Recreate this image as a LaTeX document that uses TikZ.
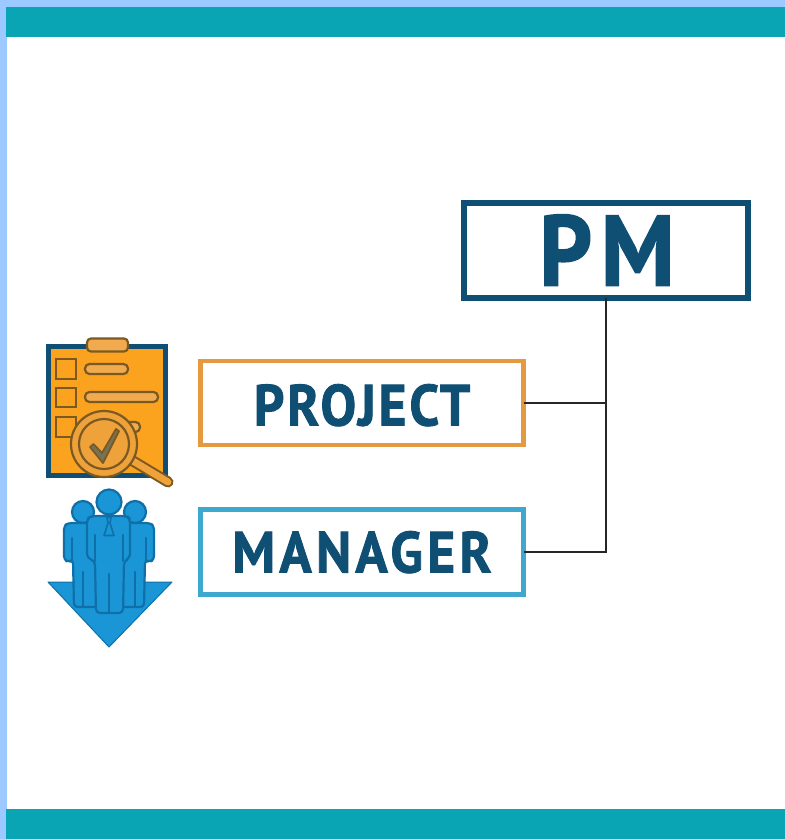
\documentclass[tikz,border=0pt]{standalone}
\usepackage{fontspec}
\setmainfont{PT Sans}[UprightFont=* Bold,UprightFeatures={FakeBold=1.5,FakeStretch=0.92}]
\definecolor{band}{HTML}{0AA5B5}
\definecolor{frameblue}{HTML}{9CC9FF}
\definecolor{navy}{HTML}{0F4F73}
\definecolor{boxorange}{HTML}{E59A40}
\definecolor{boxblue}{HTML}{3FA8CE}
\definecolor{clip}{HTML}{FBA21F}
\definecolor{clipdark}{HTML}{7A5A22}
\definecolor{lens}{HTML}{EFA23A}
\definecolor{peopleblue}{HTML}{1A96D6}
\definecolor{peopledark}{HTML}{0F6FA8}
\tikzset{
  x=1pt,y=-1pt,
  labelbox/.style={draw,fill=white,inner sep=0pt,outer sep=0pt,line width=4.5pt,text height=41pt,text depth=0pt,font=\fontsize{58}{58}\selectfont,text=navy},
  wire/.style={draw=black!85,line width=2pt},
  cliprow/.style={draw=clipdark,line width=2.2pt,fill=lens!90!white},
  person/.style={draw=peopledark,line width=2.2pt,fill=peopleblue,line join=round},
  slit/.style={draw=peopledark,line width=2.4pt,line cap=round},
}
\begin{document}
\begin{tikzpicture}
\useasboundingbox (0,0) rectangle (785,839);
% page frame and bands
\fill[frameblue] (0,0) rectangle (785,839);
\fill[white] (7,37) rectangle (785,809);
\fill[band] (6,7) rectangle (785,37);
\fill[band] (6,809) rectangle (785,839);

% labelled boxes
\node[labelbox,draw=navy,line width=6pt,minimum width=284pt,minimum height=95pt,text height=70pt,font=\fontsize{100}{100}\selectfont] (pm) at (605.5,250.5) {\addfontfeature{LetterSpace=9}PM\kern-3pt};
\node[labelbox,draw=boxorange,minimum width=323pt,minimum height=84pt] (prj) at (362,403) {\raisebox{-2pt}{\addfontfeature{LetterSpace=5}PROJECT}};
\node[labelbox,draw=boxblue,minimum width=323pt,minimum height=85pt] (mgr) at (362,552) {\addfontfeature{LetterSpace=7.5}MANAGER};

% connectors
\draw[wire] (pm.south) -- (pm.south |- mgr.east) -- (mgr.east);
\draw[wire] (prj.east) -- (prj.east -| pm.south);

% clipboard icon
\draw[draw=navy,line width=4.5pt,fill=clip] (48.5,346.5) rectangle (165.5,475.5);
\draw[cliprow,rounded corners=4pt] (87,338.5) rectangle (128,351.5);
\draw[draw=clipdark,line width=2.2pt] (56,359) rectangle (76,379);
\draw[draw=clipdark,line width=2.2pt] (56,388) rectangle (76,407);
\draw[draw=clipdark,line width=2.2pt] (56,417) rectangle (76,437);
\draw[cliprow,rounded corners=4.5pt] (85,364) rectangle (128,374);
\draw[cliprow,rounded corners=4.5pt] (85,392) rectangle (158,402);
\draw[cliprow,rounded corners=4.5pt] (85,422) rectangle (140,432);
% magnifier
\draw[draw=clipdark,line width=11pt,line cap=round] (133,461) -- (168,482);
\draw[draw=lens,line width=7pt,line cap=round] (133,461) -- (168,482);
\draw[draw=clipdark,line width=2.2pt,fill=lens] (104,444) circle (33);
\draw[draw=clipdark,line width=2.2pt,fill=lens] (104,444) circle (25);
\draw[draw=clipdark,line width=1.8pt,fill=lens!45!navy,line join=round]
  (90,447) -- (93.5,444) -- (102,453) -- (116,429) -- (119,431) -- (103,463) -- cycle;

% people icon
\fill[peopleblue,draw=peopledark,line width=1pt,line join=round] (48,582) -- (172,582) -- (109,647) -- cycle;
\draw[person] (83,512) circle (11);
\draw[person] (135,512) circle (11);
\draw[person,rounded corners=3.5pt] (64,560) -- (64,526) -- (68,523) -- (98,523) -- (98,607) -- (74,607) -- (73,560) -- (69,562) -- cycle;
\draw[person,rounded corners=3.5pt] (154,560) -- (154,526) -- (150,523) -- (120,523) -- (120,607) -- (144,607) -- (145,560) -- (149,562) -- cycle;
\draw[slit] (72,538) -- (72,560);
\draw[slit] (146,538) -- (146,560);
\draw[slit] (83,572) -- (83,606);
\draw[slit] (135,572) -- (135,606);
\draw[person] (109,502) circle (12.5);
\draw[person,rounded corners=4pt] (87,558) -- (87,519) -- (91,516) -- (127,516) -- (130,519) -- (130,558) -- (124,561) -- (123,613) -- (96,613) -- (95,561) -- cycle;
\draw[slit] (95,535) -- (95,561);
\draw[slit] (123,535) -- (123,561);
\draw[slit] (109,574) -- (109,612);
\draw[draw=peopledark,line width=1.6pt,line join=round] (107,517) -- (111,517) -- (110,523) -- (114,535.5) -- (104,535.5) -- (108,523) -- cycle;
\end{tikzpicture}
\end{document}
